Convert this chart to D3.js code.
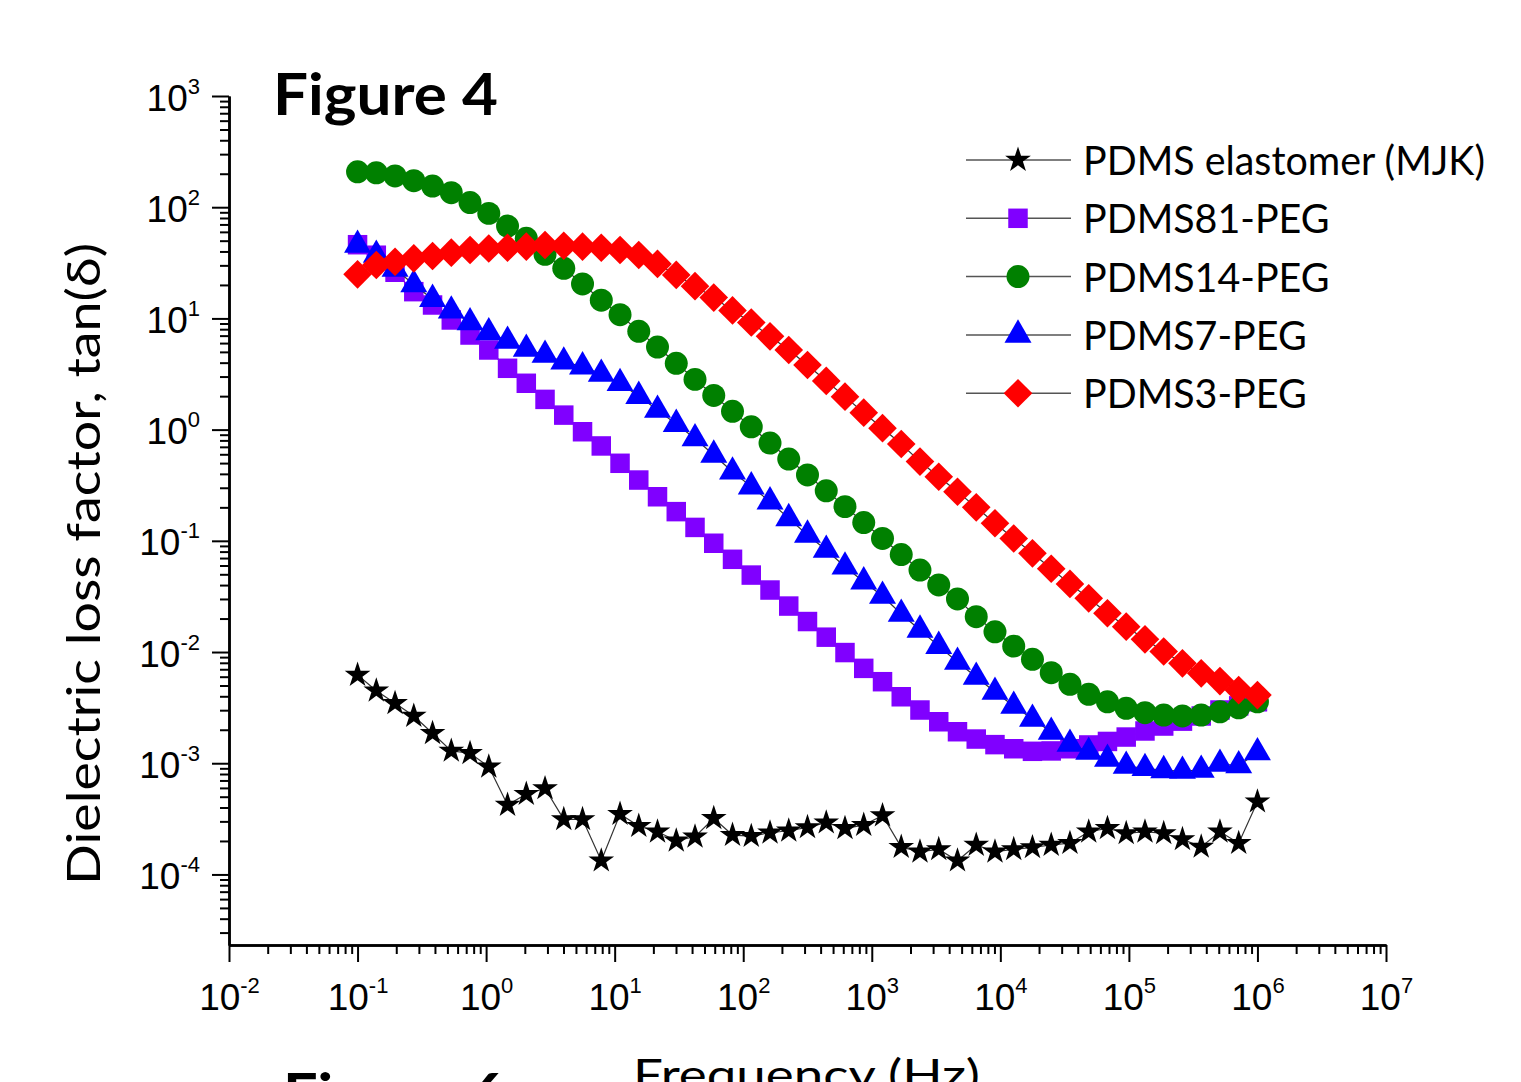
<!DOCTYPE html>
<html><head><meta charset="utf-8">
<script src="https://cdn.jsdelivr.net/npm/d3@7"></script>
<style>html,body{margin:0;padding:0;background:#fff;overflow:hidden}</style>
</head><body>
<svg id="chart" width="1521" height="1082"></svg>
<script>
// ---------------- data ----------------
const frequencies = [0.1, 0.1399, 0.1957, 0.2738, 0.3831, 0.5359, 0.7499, 1.049, 1.468, 2.054,
  2.873, 4.019, 5.623, 7.867, 11.01, 15.40, 21.54, 30.14, 42.17, 58.99,
  82.54, 115.5, 161.6, 226.0, 316.2, 442.4, 618.9, 865.9, 1212, 1695,
  2371, 3318, 4642, 6494, 9085, 12710, 17780, 24880, 34800, 48700,
  68130, 95310, 133400, 186600, 261000, 365200, 510900, 714800, 1000000];

const seriesNames = ["PDMS elastomer (MJK)", "PDMS81-PEG", "PDMS14-PEG", "PDMS7-PEG", "PDMS3-PEG"];

const elastomer = [6.21e-3, 4.49e-3, 3.46e-3, 2.66e-3, 1.86e-3, 1.29e-3, 1.23e-3, 9.3e-4, 4.21e-4, 5.28e-4,
  5.94e-4, 3.13e-4, 3.13e-4, 1.33e-4, 3.49e-4, 2.72e-4, 2.42e-4, 2.01e-4, 2.18e-4, 3.20e-4,
  2.26e-4, 2.21e-4, 2.37e-4, 2.47e-4, 2.65e-4, 2.92e-4, 2.60e-4, 2.78e-4, 3.39e-4, 1.76e-4,
  1.60e-4, 1.68e-4, 1.33e-4, 1.84e-4, 1.60e-4, 1.68e-4, 1.75e-4, 1.84e-4, 1.91e-4, 2.42e-4,
  2.60e-4, 2.34e-4, 2.42e-4, 2.34e-4, 2.07e-4, 1.77e-4, 2.42e-4, 1.91e-4, 4.51e-4];

const pdms81 = [46, 37, 26, 17.4, 13.2, 9.68, 7.09, 5.20, 3.56, 2.61,
  1.87, 1.35, 0.957, 0.713, 0.498, 0.352, 0.249, 0.183, 0.132, 0.0951,
  0.0682, 0.0492, 0.0361, 0.0259, 0.0188, 0.0136, 0.00989, 0.00713, 0.00541, 0.00396,
  0.00301, 0.00236, 0.00192, 0.00165, 0.00147, 0.00135, 0.00128, 0.00129, 0.00135, 0.00146,
  0.00157, 0.00172, 0.00195, 0.00216, 0.00239, 0.00266, 0.00301, 0.00328, 0.00357];

const pdms14 = [208, 204, 191, 173, 155, 135, 110, 88, 67.7, 52.5,
  37.7, 28.2, 20.4, 14.6, 10.8, 7.65, 5.53, 3.95, 2.83, 2.03,
  1.46, 1.06, 0.757, 0.544, 0.391, 0.282, 0.203, 0.146, 0.105, 0.0753,
  0.0546, 0.0401, 0.0300, 0.0208, 0.0152, 0.0113, 0.00859, 0.00652, 0.00512, 0.00417,
  0.00357, 0.00312, 0.00285, 0.00271, 0.00266, 0.00271, 0.00290, 0.00315, 0.00357];

const pdms7 = [45.7, 37.2, 27.8, 20.2, 14.9, 11.7, 9.19, 7.46, 6.26, 5.31,
  4.69, 4.08, 3.68, 3.16, 2.61, 2.00, 1.50, 1.12, 0.832, 0.592,
  0.418, 0.307, 0.225, 0.159, 0.113, 0.0826, 0.0585, 0.0429, 0.0319, 0.0220,
  0.0158, 0.0113, 0.00813, 0.00596, 0.00437, 0.00327, 0.00250, 0.00191, 0.00149, 0.00126,
  0.00109, 0.000944, 0.000900, 0.000863, 0.000851, 0.000869, 0.000984, 0.000953, 0.00125];

const pdms3 = [24.9, 30.2, 32.3, 34.7, 36.4, 39.0, 41.2, 42.5, 43.2, 44.2,
  45.7, 45.0, 44.2, 43.2, 41.2, 37.2, 30.9, 24.6, 19.5, 15.4,
  11.8, 9.18, 6.90, 5.20, 3.81, 2.74, 1.98, 1.42, 1.03, 0.743,
  0.516, 0.377, 0.276, 0.200, 0.144, 0.105, 0.0772, 0.0561, 0.0410, 0.0304,
  0.0223, 0.0169, 0.0130, 0.0101, 0.00791, 0.00643, 0.00548, 0.00455, 0.00410];

const xTickExponents = [-2, -1, 0, 1, 2, 3, 4, 5, 6, 7];
const yTickExponents = [-4, -3, -2, -1, 0, 1, 2, 3];

// ---------------- styles ----------------
const seriesValues = [elastomer, pdms81, pdms14, pdms7, pdms3];
const seriesColors = ["#000000", "#8000FF", "#008000", "#0000FF", "#FF0000"];
const seriesSymbols = [
  {type: d3.symbolStar, size: 205, rot: 0},
  {type: d3.symbolSquare, size: 380, rot: 0},
  {type: d3.symbolCircle, size: 415, rot: 0},
  {type: d3.symbolTriangle, size: 315, rot: 0},
  {type: d3.symbolSquare, size: 410, rot: 45}
];

const svg = d3.select("#chart");
const x = d3.scaleLog().domain([1e-2, 1e7]).range([229, 1386]);
const y = d3.scaleLog().domain([2.32e-5, 1e3]).range([945, 96]);

function minorTicks(lo, hi) {
  const out = [];
  for (let e = Math.floor(Math.log10(lo)); e <= Math.ceil(Math.log10(hi)); e++)
    for (let m = 2; m <= 9; m++) { const v = m * Math.pow(10, e); if (v >= lo && v <= hi) out.push(v); }
  return out;
}

// ---------------- axes ----------------
const axisStyle = g => {
  g.select(".domain").attr("stroke", "#000").attr("stroke-width", 2.5);
  g.selectAll(".tick line").attr("stroke", "#000").attr("stroke-width", 2);
};

const gx = svg.append("g").attr("transform", "translate(0,945)");
gx.append("g").call(d3.axisBottom(x).tickValues(minorTicks(1e-2, 1e7)).tickSize(9).tickSizeOuter(0).tickFormat(() => ""))
  .call(axisStyle).call(g => g.selectAll("text").remove());
const gxMajor = gx.append("g").call(d3.axisBottom(x).tickValues(xTickExponents.map(e => Math.pow(10, e))).tickSize(17).tickSizeOuter(0).tickFormat(() => ""))
  .call(axisStyle);
gxMajor.selectAll(".tick text").each(function(d) {
  const t = d3.select(this);
  const e = Math.round(Math.log10(d));
  t.text(null).attr("y", 65).attr("dy", null).attr("text-anchor", "middle")
    .attr("font-family", "'Liberation Sans', Arial, sans-serif").attr("fill", "#000");
  t.append("tspan").attr("font-size", 37).text("10");
  t.append("tspan").attr("font-size", 22).attr("dy", -17).text(String(e));
});

const gy = svg.append("g").attr("transform", "translate(229,0)");
gy.append("g").call(d3.axisLeft(y).tickValues(minorTicks(2.32e-5, 1e3)).tickSize(9).tickSizeOuter(0).tickFormat(() => ""))
  .call(axisStyle).call(g => g.selectAll("text").remove());
const gyMajor = gy.append("g").call(d3.axisLeft(y).tickValues(yTickExponents.map(e => Math.pow(10, e))).tickSize(17).tickSizeOuter(0).tickFormat(() => ""))
  .call(axisStyle);
gyMajor.selectAll(".tick text").each(function(d) {
  const t = d3.select(this);
  const e = Math.round(Math.log10(d));
  t.text(null).attr("x", -29).attr("y", 14).attr("dy", null).attr("text-anchor", "end")
    .attr("font-family", "'Liberation Sans', Arial, sans-serif").attr("fill", "#000");
  t.append("tspan").attr("font-size", 37).text("10");
  t.append("tspan").attr("font-size", 22).attr("dy", -17).text(String(e));
});

// ---------------- series ----------------
const line = d3.line().x(d => x(d[0])).y(d => y(d[1]));
seriesValues.forEach((vals, i) => {
  const pts = frequencies.map((f, k) => [f, vals[k]]);
  const g = svg.append("g");
  g.append("path").datum(pts).attr("d", line).attr("fill", "none")
    .attr("stroke", "#333").attr("stroke-width", 1.2);
  const sym = d3.symbol().type(seriesSymbols[i].type).size(seriesSymbols[i].size);
  g.selectAll("path.m").data(pts).join("path").attr("class", "m")
    .attr("d", sym)
    .attr("transform", d => `translate(${x(d[0])},${y(d[1])}) rotate(${seriesSymbols[i].rot})`)
    .attr("fill", seriesColors[i]);
});

// ---------------- legend ----------------
const legend = svg.append("g");
const legendTexts = [];
seriesNames.forEach((name, i) => {
  const ly = 160 + 58.3 * i;
  legend.append("line").attr("x1", 966).attr("x2", 1071).attr("y1", ly).attr("y2", ly)
    .attr("stroke", "#555").attr("stroke-width", 1.5);
  const sym = d3.symbol().type(seriesSymbols[i].type).size(seriesSymbols[i].size);
  legend.append("path").attr("d", sym)
    .attr("transform", `translate(1018,${ly}) rotate(${seriesSymbols[i].rot})`)
    .attr("fill", seriesColors[i]);
  legendTexts.push(legend.append("text").attr("x", 1083).attr("y", ly + 15)
    .attr("font-family", "Lato, 'Open Sans', sans-serif").attr("font-size", 41)
    .attr("fill", "#000").text(name));
});
const natural0 = legendTexts[0].node().getComputedTextLength();
const legendScale = 402 / natural0;
legendTexts.forEach(t => {
  const w = t.node().getComputedTextLength();
  t.attr("textLength", w * legendScale).attr("lengthAdjust", "spacingAndGlyphs");
});

// ---------------- titles ----------------
svg.append("text").attr("x", 273).attr("y", 115)
  .attr("font-family", "Lato, 'Open Sans', sans-serif").attr("font-weight", "bold").attr("font-size", 58)
  .attr("textLength", 225).attr("lengthAdjust", "spacingAndGlyphs").text("Figure 4");

svg.append("text").attr("x", 283).attr("y", 1115)
  .attr("font-family", "Lato, 'Open Sans', sans-serif").attr("font-weight", "bold").attr("font-size", 58)
  .attr("textLength", 222).attr("lengthAdjust", "spacingAndGlyphs").text("Figure 6");

svg.append("text").attr("x", 633).attr("y", 1090)
  .attr("font-family", "Lato, 'Open Sans', sans-serif").attr("font-size", 43)
  .attr("textLength", 347).attr("lengthAdjust", "spacingAndGlyphs").text("Frequency (Hz)");

svg.append("text").attr("transform", "translate(100,564) rotate(-90)")
  .attr("text-anchor", "middle")
  .attr("font-family", "Lato, 'Open Sans', sans-serif").attr("font-size", 46)
  .attr("textLength", 642).attr("lengthAdjust", "spacingAndGlyphs").text("Dielectric loss factor, tan(δ)");
</script>
</body></html>
